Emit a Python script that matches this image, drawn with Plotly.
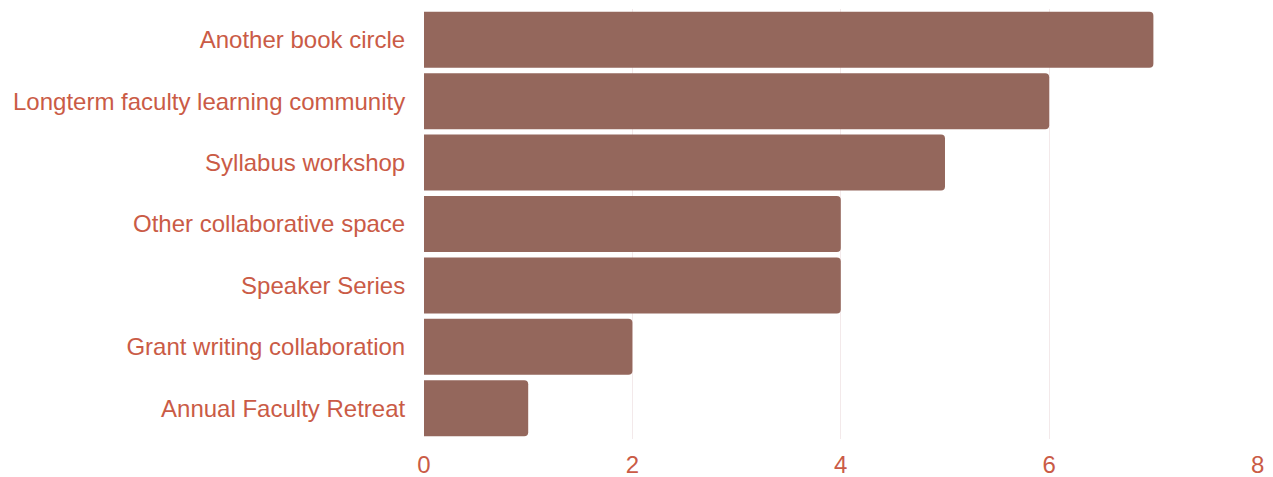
import plotly.graph_objects as go

categories = [
    "Another book circle",
    "Longterm faculty learning community",
    "Syllabus workshop",
    "Other collaborative space",
    "Speaker Series",
    "Grant writing collaboration",
    "Annual Faculty Retreat",
]
values = [7, 6, 5, 4, 4, 2, 1]
x_ticks = [0, 2, 4, 6, 8]

label_color = "#CA5B46"
bar_color = "#94675C"

fig = go.Figure(
    go.Bar(
        x=values,
        y=categories,
        orientation="h",
        marker=dict(color=bar_color, cornerradius=4, line=dict(width=0)),
    )
)

fig.update_layout(
    width=1273,
    height=469,
    margin=dict(l=416, r=23, t=1, b=38, autoexpand=False),
    paper_bgcolor="white",
    plot_bgcolor="white",
    bargap=0.088,
    showlegend=False,
    font=dict(family="Liberation Sans, Arial, sans-serif", size=24, color=label_color),
)
fig.update_xaxes(
    range=[0, 8.004],
    tickvals=x_ticks,
    showgrid=True,
    gridcolor="#F3E9EA",
    gridwidth=1,
    zeroline=False,
    showline=False,
    ticks="outside",
    ticklen=4,
    tickcolor="rgba(0,0,0,0)",
    tickfont=dict(size=24, color=label_color),
    automargin=False,
)
fig.update_yaxes(
    categoryorder="array",
    categoryarray=categories[::-1],
    showgrid=False,
    zeroline=False,
    showline=False,
    ticks="outside",
    ticklen=13,
    tickcolor="rgba(0,0,0,0)",
    tickfont=dict(size=24, color=label_color),
    automargin=False,
)

fig.write_html("out.html")
